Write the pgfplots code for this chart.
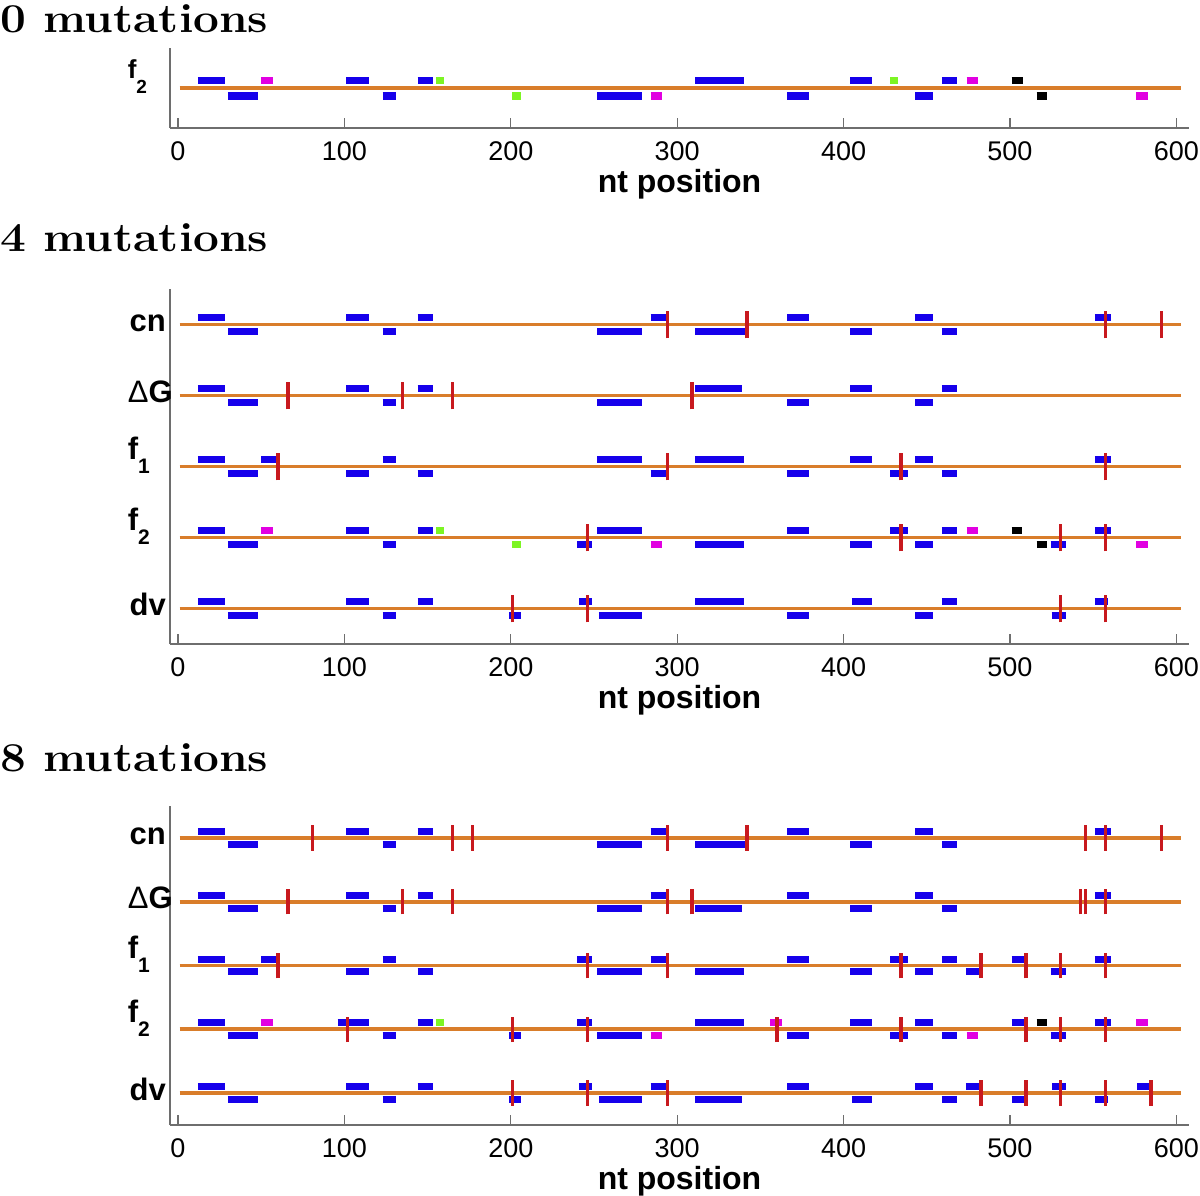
\documentclass[border=0pt]{standalone}
\usepackage{fontspec}
\setsansfont{Liberation Sans}
\usepackage{graphicx}
\usepackage{pgfplots}
\pgfplotsset{compat=1.18}
\definecolor{barblue}{RGB}{22,0,235}
\definecolor{barmag}{RGB}{225,0,225}
\definecolor{bargreen}{RGB}{125,245,35}
\definecolor{lineorange}{RGB}{217,125,42}
\definecolor{mutred}{RGB}{200,25,30}
\definecolor{spinegray}{RGB}{110,110,110}
\newcommand\lab[1]{\smash{\raisebox{-7pt}{#1}}}
\newcommand\flab[1]{\makebox[38pt][l]{\smash{\raisebox{7pt}{f\raisebox{-14pt}{\fontsize{21}{21}\selectfont #1}}}}}
\newcommand\flabtop[1]{\makebox[38pt][l]{\smash{\raisebox{10pt}{\fontsize{26}{26}\selectfont f\raisebox{-15pt}{\fontsize{19}{19}\selectfont #1}}}}}
\newcommand\dglab{\makebox[38pt][l]{\smash{\raisebox{-7pt}{{\mdseries Δ}G}}}}
\pgfplotsset{
 rowaxis/.style={
  scale only axis, width=1019pt,
  xmin=-4.8, xmax=607.6,
  axis x line*=bottom, axis y line*=left,
  axis line style={draw=spinegray, line width=1.2pt},
  xtick={0,100,...,600},
  tick align=inside,
  xtick style={draw=spinegray, line width=1.2pt},
  major tick length=10pt,
  ytick style={draw=none},
  tick label style={font=\sffamily\fontsize{27}{27}\selectfont},
  xticklabel style={yshift=-10pt},
  yticklabel style={font=\sffamily\bfseries\fontsize{31}{31}\selectfont, inner sep=0pt, xshift=-4pt},
  /pgf/number format/assume math mode=true,
  xlabel={nt position},
  xlabel style={font=\sffamily\bfseries\fontsize{32}{32}\selectfont, at={(axis description cs:0.5,0)}, anchor=base, yshift=-64pt, inner sep=0pt},
  unbounded coords=jump,
 },
 orangeline/.style={lineorange, line width=3.8pt},
 bar/.style={line width=7pt},
 mut/.style={mutred, line width=3.4pt},
}
\begin{document}
\begin{tikzpicture}
\useasboundingbox (0pt,0pt) rectangle (1200pt,-1196pt);
\newcommand\ttl{\fontsize{41}{48}\selectfont\bfseries}
\node[anchor=base west, inner sep=0pt, font=\ttl] at (0pt,-33pt) {\scalebox{1.12}[1]{0 mutations}};
\node[anchor=base west, inner sep=0pt, font=\ttl] at (0pt,-251pt) {\scalebox{1.12}[1]{4 mutations}};
\node[anchor=base west, inner sep=0pt, font=\ttl] at (0pt,-771pt) {\scalebox{1.12}[1]{8 mutations}};

% ---------------- panel 1: 0 mutations ----------------
\begin{axis}[rowaxis, at={(170pt,-128pt)}, anchor=south west, height=80pt,
  ymin=0, ymax=2, ytick={1}, yticklabels={\flabtop{2}}]
\addplot[orangeline] coordinates {(1,1)(602.5,1)};
\addplot[bar, barblue] coordinates {
(12,1.2)(28,1.2)(0,nan)(101,1.2)(115,1.2)(0,nan)(144,1.2)(153,1.2)(0,nan)(311,1.2)(340,1.2)(0,nan)(404,1.2)(417,1.2)(0,nan)(459,1.2)(468,1.2)(0,nan)
(30,0.8)(48,0.8)(0,nan)(123,0.8)(131,0.8)(0,nan)(252,0.8)(279,0.8)(0,nan)(366,0.8)(379,0.8)(0,nan)(443,0.8)(454,0.8)};
\addplot[bar, barmag] coordinates {(50,1.2)(57,1.2)(0,nan)(474,1.2)(481,1.2)(0,nan)(284,0.8)(291,0.8)(0,nan)(576,0.8)(583,0.8)};
\addplot[bar, bargreen] coordinates {(155,1.2)(160,1.2)(0,nan)(428,1.2)(433,1.2)(0,nan)(201,0.8)(206,0.8)};
\addplot[bar, black] coordinates {(501,1.2)(508,1.2)(0,nan)(516,0.8)(522,0.8)};
\end{axis}

% ---------------- panel 2: 4 mutations ----------------
\begin{axis}[rowaxis, at={(170pt,-644pt)}, anchor=south west, height=355pt,
  ymin=0.5, ymax=5.5, ytick={1,2,3,4,5},
  yticklabels={\lab{dv},\flab{2},\flab{1},\dglab,\lab{cn}}]
\addplot[orangeline] coordinates {(1,5)(602.5,5)(0,nan)(1,4)(602.5,4)(0,nan)(1,3)(602.5,3)(0,nan)(1,2)(602.5,2)(0,nan)(1,1)(602.5,1)};
\addplot[bar, barblue] coordinates {
(12,5.1)(28,5.1)(0,nan)(101,5.1)(115,5.1)(0,nan)(144,5.1)(153,5.1)(0,nan)(284,5.1)(293,5.1)(0,nan)(366,5.1)(379,5.1)(0,nan)(443,5.1)(454,5.1)(0,nan)(551,5.1)(561,5.1)(0,nan)
(30,4.9)(48,4.9)(0,nan)(123,4.9)(131,4.9)(0,nan)(252,4.9)(279,4.9)(0,nan)(311,4.9)(342,4.9)(0,nan)(404,4.9)(417,4.9)(0,nan)(459,4.9)(468,4.9)(0,nan)
(12,4.1)(28,4.1)(0,nan)(101,4.1)(115,4.1)(0,nan)(144,4.1)(153,4.1)(0,nan)(311,4.1)(339,4.1)(0,nan)(404,4.1)(417,4.1)(0,nan)(459,4.1)(468,4.1)(0,nan)
(30,3.9)(48,3.9)(0,nan)(123,3.9)(131,3.9)(0,nan)(252,3.9)(279,3.9)(0,nan)(366,3.9)(379,3.9)(0,nan)(443,3.9)(454,3.9)(0,nan)
(12,3.1)(28,3.1)(0,nan)(50,3.1)(59,3.1)(0,nan)(123,3.1)(131,3.1)(0,nan)(252,3.1)(279,3.1)(0,nan)(311,3.1)(340,3.1)(0,nan)(404,3.1)(417,3.1)(0,nan)(443,3.1)(454,3.1)(0,nan)(551,3.1)(561,3.1)(0,nan)
(30,2.9)(48,2.9)(0,nan)(101,2.9)(115,2.9)(0,nan)(144,2.9)(153,2.9)(0,nan)(284,2.9)(293,2.9)(0,nan)(366,2.9)(379,2.9)(0,nan)(428,2.9)(439,2.9)(0,nan)(459,2.9)(468,2.9)(0,nan)
(12,2.1)(28,2.1)(0,nan)(101,2.1)(115,2.1)(0,nan)(144,2.1)(153,2.1)(0,nan)(252,2.1)(279,2.1)(0,nan)(366,2.1)(379,2.1)(0,nan)(428,2.1)(439,2.1)(0,nan)(459,2.1)(468,2.1)(0,nan)(551,2.1)(561,2.1)(0,nan)
(30,1.9)(48,1.9)(0,nan)(123,1.9)(131,1.9)(0,nan)(240,1.9)(249,1.9)(0,nan)(311,1.9)(340,1.9)(0,nan)(404,1.9)(417,1.9)(0,nan)(443,1.9)(454,1.9)(0,nan)(524.5,1.9)(533.5,1.9)(0,nan)
(12,1.1)(28,1.1)(0,nan)(101,1.1)(115,1.1)(0,nan)(144,1.1)(153,1.1)(0,nan)(241,1.1)(249,1.1)(0,nan)(311,1.1)(340,1.1)(0,nan)(405,1.1)(417,1.1)(0,nan)(459,1.1)(468,1.1)(0,nan)(551,1.1)(559,1.1)(0,nan)
(30,0.9)(48,0.9)(0,nan)(123,0.9)(131,0.9)(0,nan)(199,0.9)(206,0.9)(0,nan)(253,0.9)(279,0.9)(0,nan)(366,0.9)(379,0.9)(0,nan)(443,0.9)(454,0.9)(0,nan)(525,0.9)(533.5,0.9)};
\addplot[bar, barmag] coordinates {(50,2.1)(57,2.1)(0,nan)(474,2.1)(481,2.1)(0,nan)(284,1.9)(291,1.9)(0,nan)(576,1.9)(583,1.9)};
\addplot[bar, bargreen] coordinates {(155,2.1)(160,2.1)(0,nan)(201,1.9)(206,1.9)};
\addplot[bar, black] coordinates {(501,2.1)(507,2.1)(0,nan)(516,1.9)(522,1.9)};
\addplot[mut] coordinates {
(294,4.805)(294,5.195)(0,nan)(342,4.805)(342,5.195)(0,nan)(557.5,4.805)(557.5,5.195)(0,nan)(591,4.805)(591,5.195)(0,nan)
(66,3.805)(66,4.195)(0,nan)(135,3.805)(135,4.195)(0,nan)(165,3.805)(165,4.195)(0,nan)(309,3.805)(309,4.195)(0,nan)
(60,2.805)(60,3.195)(0,nan)(294,2.805)(294,3.195)(0,nan)(434.5,2.805)(434.5,3.195)(0,nan)(557.5,2.805)(557.5,3.195)(0,nan)
(246,1.805)(246,2.195)(0,nan)(434.5,1.805)(434.5,2.195)(0,nan)(530.5,1.805)(530.5,2.195)(0,nan)(557.5,1.805)(557.5,2.195)(0,nan)
(201,0.805)(201,1.195)(0,nan)(246,0.805)(246,1.195)(0,nan)(530.5,0.805)(530.5,1.195)(0,nan)(557.5,0.805)(557.5,1.195)};
\end{axis}

% ---------------- panel 3: 8 mutations ----------------
\begin{axis}[rowaxis, at={(170pt,-1125pt)}, anchor=south west, height=319pt,
  ymin=0.5, ymax=5.5, ytick={1,2,3,4,5},
  yticklabels={\lab{dv},\flab{2},\flab{1},\dglab,\lab{cn}}]
\addplot[orangeline] coordinates {(1,5)(602.5,5)(0,nan)(1,4)(602.5,4)(0,nan)(1,3)(602.5,3)(0,nan)(1,2)(602.5,2)(0,nan)(1,1)(602.5,1)};
\addplot[bar, barblue] coordinates {
(12,5.1)(28,5.1)(0,nan)(101,5.1)(115,5.1)(0,nan)(144,5.1)(153,5.1)(0,nan)(284,5.1)(293,5.1)(0,nan)(366,5.1)(379,5.1)(0,nan)(443,5.1)(454,5.1)(0,nan)(551,5.1)(561,5.1)(0,nan)
(30,4.9)(48,4.9)(0,nan)(123,4.9)(131,4.9)(0,nan)(252,4.9)(279,4.9)(0,nan)(311,4.9)(342,4.9)(0,nan)(404,4.9)(417,4.9)(0,nan)(459,4.9)(468,4.9)(0,nan)
(12,4.1)(28,4.1)(0,nan)(101,4.1)(115,4.1)(0,nan)(144,4.1)(153,4.1)(0,nan)(284,4.1)(293,4.1)(0,nan)(366,4.1)(379,4.1)(0,nan)(443,4.1)(454,4.1)(0,nan)(551,4.1)(561,4.1)(0,nan)
(30,3.9)(48,3.9)(0,nan)(123,3.9)(131,3.9)(0,nan)(252,3.9)(279,3.9)(0,nan)(311,3.9)(339,3.9)(0,nan)(404,3.9)(417,3.9)(0,nan)(459,3.9)(468,3.9)(0,nan)
(12,3.1)(28,3.1)(0,nan)(50,3.1)(59,3.1)(0,nan)(123,3.1)(131,3.1)(0,nan)(240,3.1)(249,3.1)(0,nan)(284,3.1)(293,3.1)(0,nan)(366,3.1)(379,3.1)(0,nan)(428,3.1)(439,3.1)(0,nan)(459,3.1)(468,3.1)(0,nan)(501,3.1)(509.5,3.1)(0,nan)(551,3.1)(561,3.1)(0,nan)
(30,2.9)(48,2.9)(0,nan)(101,2.9)(115,2.9)(0,nan)(144,2.9)(153,2.9)(0,nan)(252,2.9)(279,2.9)(0,nan)(311,2.9)(340,2.9)(0,nan)(404,2.9)(417,2.9)(0,nan)(443,2.9)(454,2.9)(0,nan)(473.5,2.9)(482.5,2.9)(0,nan)(524.5,2.9)(533.5,2.9)(0,nan)
(12,2.1)(28,2.1)(0,nan)(96,2.1)(115,2.1)(0,nan)(144,2.1)(153,2.1)(0,nan)(240,2.1)(249,2.1)(0,nan)(311,2.1)(340,2.1)(0,nan)(404,2.1)(417,2.1)(0,nan)(443,2.1)(454,2.1)(0,nan)(501,2.1)(509.5,2.1)(0,nan)(551,2.1)(561,2.1)(0,nan)
(30,1.9)(48,1.9)(0,nan)(123,1.9)(131,1.9)(0,nan)(199,1.9)(206,1.9)(0,nan)(252,1.9)(279,1.9)(0,nan)(366,1.9)(379,1.9)(0,nan)(428,1.9)(439,1.9)(0,nan)(459,1.9)(468,1.9)(0,nan)(524.5,1.9)(533.5,1.9)(0,nan)
(12,1.1)(28,1.1)(0,nan)(101,1.1)(115,1.1)(0,nan)(144,1.1)(153,1.1)(0,nan)(241,1.1)(249,1.1)(0,nan)(284,1.1)(293,1.1)(0,nan)(366,1.1)(379,1.1)(0,nan)(443,1.1)(454,1.1)(0,nan)(473.5,1.1)(482.5,1.1)(0,nan)(525.5,1.1)(533.5,1.1)(0,nan)(576.5,1.1)(585,1.1)(0,nan)
(30,0.9)(48,0.9)(0,nan)(123,0.9)(131,0.9)(0,nan)(199,0.9)(206,0.9)(0,nan)(253,0.9)(279,0.9)(0,nan)(311,0.9)(339,0.9)(0,nan)(405,0.9)(417,0.9)(0,nan)(459,0.9)(468,0.9)(0,nan)(501,0.9)(509.5,0.9)(0,nan)(551,0.9)(559,0.9)};
\addplot[bar, barmag] coordinates {(50,2.1)(57,2.1)(0,nan)(356,2.1)(363,2.1)(0,nan)(576,2.1)(583,2.1)(0,nan)(284,1.9)(291,1.9)(0,nan)(474,1.9)(481,1.9)};
\addplot[bar, bargreen] coordinates {(155,2.1)(160,2.1)};
\addplot[bar, black] coordinates {(516,2.1)(522,2.1)};
\addplot[mut] coordinates {
(81,4.8)(81,5.2)(0,nan)(165,4.8)(165,5.2)(0,nan)(177,4.8)(177,5.2)(0,nan)(294,4.8)(294,5.2)(0,nan)(342,4.8)(342,5.2)(0,nan)(545.5,4.8)(545.5,5.2)(0,nan)(557.5,4.8)(557.5,5.2)(0,nan)(591,4.8)(591,5.2)(0,nan)
(66,3.8)(66,4.2)(0,nan)(135,3.8)(135,4.2)(0,nan)(165,3.8)(165,4.2)(0,nan)(294,3.8)(294,4.2)(0,nan)(309,3.8)(309,4.2)(0,nan)(542.5,3.8)(542.5,4.2)(0,nan)(545.5,3.8)(545.5,4.2)(0,nan)(557.5,3.8)(557.5,4.2)(0,nan)
(60,2.8)(60,3.2)(0,nan)(246,2.8)(246,3.2)(0,nan)(294,2.8)(294,3.2)(0,nan)(434.5,2.8)(434.5,3.2)(0,nan)(482.6,2.8)(482.6,3.2)(0,nan)(509.7,2.8)(509.7,3.2)(0,nan)(530.5,2.8)(530.5,3.2)(0,nan)(557.5,2.8)(557.5,3.2)(0,nan)
(102,1.8)(102,2.2)(0,nan)(201,1.8)(201,2.2)(0,nan)(246,1.8)(246,2.2)(0,nan)(360,1.8)(360,2.2)(0,nan)(434.5,1.8)(434.5,2.2)(0,nan)(509.7,1.8)(509.7,2.2)(0,nan)(530.5,1.8)(530.5,2.2)(0,nan)(557.5,1.8)(557.5,2.2)(0,nan)
(201,0.8)(201,1.2)(0,nan)(246,0.8)(246,1.2)(0,nan)(294,0.8)(294,1.2)(0,nan)(482.6,0.8)(482.6,1.2)(0,nan)(509.7,0.8)(509.7,1.2)(0,nan)(530.5,0.8)(530.5,1.2)(0,nan)(557.5,0.8)(557.5,1.2)(0,nan)(584.8,0.8)(584.8,1.2)};
\end{axis}
\end{tikzpicture}
\end{document}
